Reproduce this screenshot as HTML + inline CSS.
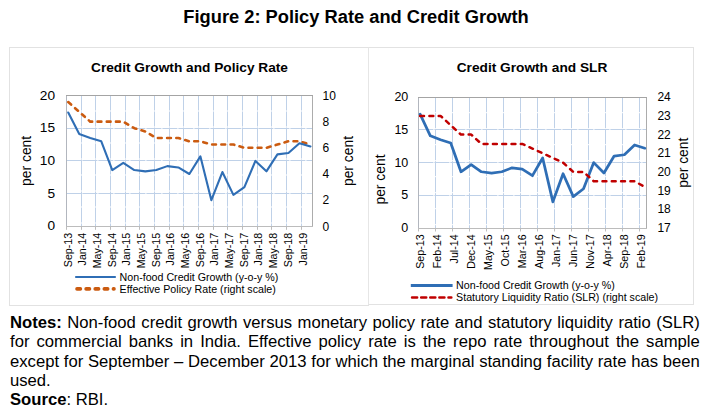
<!DOCTYPE html>
<html><head><meta charset="utf-8"><title>Figure 2</title>
<style>
html,body{margin:0;padding:0;background:#fff;}
body{width:706px;height:413px;overflow:hidden;position:relative;font-family:"Liberation Sans", sans-serif;color:#000;}
#ttl{position:absolute;left:0;top:5.5px;width:712px;text-align:center;font-weight:bold;font-size:18.3px;line-height:22px;white-space:nowrap;}
#bl{position:absolute;left:9.2px;top:47px;width:359.6px;height:258.9px;border:1px solid #e2e2e2;border-right:none;box-sizing:border-box;}
#br{position:absolute;left:368.0px;top:47px;width:325.9px;height:257.7px;border:1px solid #e2e2e2;border-left:1.7px solid #e6e6e6;box-sizing:border-box;}
svg{position:absolute;left:0;top:0;}
svg text{font-family:"Liberation Sans", sans-serif;fill:#000;}
#notes{position:absolute;left:10px;top:313.4px;width:689.8px;font-size:16.67px;line-height:19.1px;}
#notes div{white-space:nowrap;text-align:justify;text-align-last:justify;height:19.1px;}
#notes div.l{text-align:left;text-align-last:left;}
</style></head><body>
<div id="ttl">Figure 2: Policy Rate and Credit Growth</div>
<div id="bl"></div><div id="br"></div>
<svg width="706" height="413" viewBox="0 0 706 413">
<line x1="66.4" y1="128.50" x2="312.3" y2="128.50" stroke="#bfd1e8" stroke-width="1" stroke-dasharray="15 1" stroke-dashoffset="0"/>
<line x1="66.4" y1="160.50" x2="312.3" y2="160.50" stroke="#bfd1e8" stroke-width="1" stroke-dasharray="15 1" stroke-dashoffset="0"/>
<line x1="66.4" y1="193.50" x2="312.3" y2="193.50" stroke="#bfd1e8" stroke-width="1" stroke-dasharray="15 1" stroke-dashoffset="0"/>
<line x1="81.50" y1="95.5" x2="81.50" y2="226.3" stroke="#bfd1e8" stroke-width="1" stroke-dasharray="15 1"/>
<line x1="95.50" y1="95.5" x2="95.50" y2="226.3" stroke="#bfd1e8" stroke-width="1" stroke-dasharray="15 1"/>
<line x1="110.50" y1="95.5" x2="110.50" y2="226.3" stroke="#bfd1e8" stroke-width="1" stroke-dasharray="15 1"/>
<line x1="125.50" y1="95.5" x2="125.50" y2="226.3" stroke="#bfd1e8" stroke-width="1" stroke-dasharray="15 1"/>
<line x1="139.50" y1="95.5" x2="139.50" y2="226.3" stroke="#bfd1e8" stroke-width="1" stroke-dasharray="15 1"/>
<line x1="154.50" y1="95.5" x2="154.50" y2="226.3" stroke="#bfd1e8" stroke-width="1" stroke-dasharray="15 1"/>
<line x1="169.50" y1="95.5" x2="169.50" y2="226.3" stroke="#bfd1e8" stroke-width="1" stroke-dasharray="15 1"/>
<line x1="183.50" y1="95.5" x2="183.50" y2="226.3" stroke="#bfd1e8" stroke-width="1" stroke-dasharray="15 1"/>
<line x1="198.50" y1="95.5" x2="198.50" y2="226.3" stroke="#bfd1e8" stroke-width="1" stroke-dasharray="15 1"/>
<line x1="213.50" y1="95.5" x2="213.50" y2="226.3" stroke="#bfd1e8" stroke-width="1" stroke-dasharray="15 1"/>
<line x1="227.50" y1="95.5" x2="227.50" y2="226.3" stroke="#bfd1e8" stroke-width="1" stroke-dasharray="15 1"/>
<line x1="242.50" y1="95.5" x2="242.50" y2="226.3" stroke="#bfd1e8" stroke-width="1" stroke-dasharray="15 1"/>
<line x1="257.50" y1="95.5" x2="257.50" y2="226.3" stroke="#bfd1e8" stroke-width="1" stroke-dasharray="15 1"/>
<line x1="271.50" y1="95.5" x2="271.50" y2="226.3" stroke="#bfd1e8" stroke-width="1" stroke-dasharray="15 1"/>
<line x1="286.50" y1="95.5" x2="286.50" y2="226.3" stroke="#bfd1e8" stroke-width="1" stroke-dasharray="15 1"/>
<line x1="301.50" y1="95.5" x2="301.50" y2="226.3" stroke="#bfd1e8" stroke-width="1" stroke-dasharray="15 1"/>
<line x1="66.50" y1="226.3" x2="66.50" y2="229.8" stroke="#bcbcbc" stroke-width="1"/>
<line x1="81.50" y1="226.3" x2="81.50" y2="229.8" stroke="#bcbcbc" stroke-width="1"/>
<line x1="95.50" y1="226.3" x2="95.50" y2="229.8" stroke="#bcbcbc" stroke-width="1"/>
<line x1="110.50" y1="226.3" x2="110.50" y2="229.8" stroke="#bcbcbc" stroke-width="1"/>
<line x1="125.50" y1="226.3" x2="125.50" y2="229.8" stroke="#bcbcbc" stroke-width="1"/>
<line x1="139.50" y1="226.3" x2="139.50" y2="229.8" stroke="#bcbcbc" stroke-width="1"/>
<line x1="154.50" y1="226.3" x2="154.50" y2="229.8" stroke="#bcbcbc" stroke-width="1"/>
<line x1="169.50" y1="226.3" x2="169.50" y2="229.8" stroke="#bcbcbc" stroke-width="1"/>
<line x1="183.50" y1="226.3" x2="183.50" y2="229.8" stroke="#bcbcbc" stroke-width="1"/>
<line x1="198.50" y1="226.3" x2="198.50" y2="229.8" stroke="#bcbcbc" stroke-width="1"/>
<line x1="213.50" y1="226.3" x2="213.50" y2="229.8" stroke="#bcbcbc" stroke-width="1"/>
<line x1="227.50" y1="226.3" x2="227.50" y2="229.8" stroke="#bcbcbc" stroke-width="1"/>
<line x1="242.50" y1="226.3" x2="242.50" y2="229.8" stroke="#bcbcbc" stroke-width="1"/>
<line x1="257.50" y1="226.3" x2="257.50" y2="229.8" stroke="#bcbcbc" stroke-width="1"/>
<line x1="271.50" y1="226.3" x2="271.50" y2="229.8" stroke="#bcbcbc" stroke-width="1"/>
<line x1="286.50" y1="226.3" x2="286.50" y2="229.8" stroke="#bcbcbc" stroke-width="1"/>
<line x1="301.50" y1="226.3" x2="301.50" y2="229.8" stroke="#bcbcbc" stroke-width="1"/>
<line x1="66.5" y1="95.5" x2="66.5" y2="226.5" stroke="#b2b6be" stroke-width="1"/>
<line x1="312.5" y1="95.5" x2="312.5" y2="226.5" stroke="#acacac" stroke-width="1"/>
<line x1="66.0" y1="226.5" x2="313.0" y2="226.5" stroke="#bcbcbc" stroke-width="1"/>
<line x1="66.0" y1="95.5" x2="313.0" y2="95.5" stroke="#a4a4a4" stroke-width="1"/>
<polyline points="68.24,102.04 79.25,111.85 90.26,121.66 101.27,121.66 112.28,121.66 123.29,121.66 134.30,128.20 145.31,131.47 156.32,138.01 167.33,138.01 178.34,138.01 189.35,141.28 200.36,141.28 211.37,144.55 222.38,144.55 233.39,144.55 244.40,147.82 255.41,147.82 266.42,147.82 277.43,144.55 288.44,141.28 299.45,141.28 310.46,144.55" fill="none" stroke="#cb5b10" stroke-width="2.6" stroke-dasharray="3.8 5.4" stroke-linecap="round" stroke-linejoin="round"/>
<polyline points="68.24,112.50 79.25,134.09 90.26,138.01 101.27,141.28 112.28,170.06 123.29,162.86 134.30,170.06 145.31,171.36 156.32,170.06 167.33,166.13 178.34,167.44 189.35,173.98 200.36,156.32 211.37,200.14 222.38,172.02 233.39,194.91 244.40,187.06 255.41,160.90 266.42,171.36 277.43,154.36 288.44,153.05 299.45,143.24 310.46,146.51" fill="none" stroke="#2f6eb5" stroke-width="2.1" stroke-linejoin="round" stroke-linecap="round"/>
<text x="55" y="230.40" font-size="13.7" text-anchor="end">0</text>
<text x="55" y="197.70" font-size="13.7" text-anchor="end">5</text>
<text x="55" y="165.00" font-size="13.7" text-anchor="end">10</text>
<text x="55" y="132.30" font-size="13.7" text-anchor="end">15</text>
<text x="55" y="99.60" font-size="13.7" text-anchor="end">20</text>
<text x="322.5" y="230.50" font-size="12" text-anchor="start">0</text>
<text x="322.5" y="204.34" font-size="12" text-anchor="start">2</text>
<text x="322.5" y="178.18" font-size="12" text-anchor="start">4</text>
<text x="322.5" y="152.02" font-size="12" text-anchor="start">6</text>
<text x="322.5" y="125.86" font-size="12" text-anchor="start">8</text>
<text x="322.5" y="99.70" font-size="12" text-anchor="start">10</text>
<text transform="translate(71.64,232.80) rotate(-90)" font-size="10.67" text-anchor="end">Sep-13</text>
<text transform="translate(86.32,232.80) rotate(-90)" font-size="10.67" text-anchor="end">Jan-14</text>
<text transform="translate(101.00,232.80) rotate(-90)" font-size="10.67" text-anchor="end">May-14</text>
<text transform="translate(115.68,232.80) rotate(-90)" font-size="10.67" text-anchor="end">Sep-14</text>
<text transform="translate(130.36,232.80) rotate(-90)" font-size="10.67" text-anchor="end">Jan-15</text>
<text transform="translate(145.04,232.80) rotate(-90)" font-size="10.67" text-anchor="end">May-15</text>
<text transform="translate(159.72,232.80) rotate(-90)" font-size="10.67" text-anchor="end">Sep-15</text>
<text transform="translate(174.40,232.80) rotate(-90)" font-size="10.67" text-anchor="end">Jan-16</text>
<text transform="translate(189.08,232.80) rotate(-90)" font-size="10.67" text-anchor="end">May-16</text>
<text transform="translate(203.76,232.80) rotate(-90)" font-size="10.67" text-anchor="end">Sep-16</text>
<text transform="translate(218.44,232.80) rotate(-90)" font-size="10.67" text-anchor="end">Jan-17</text>
<text transform="translate(233.12,232.80) rotate(-90)" font-size="10.67" text-anchor="end">May-17</text>
<text transform="translate(247.80,232.80) rotate(-90)" font-size="10.67" text-anchor="end">Sep-17</text>
<text transform="translate(262.48,232.80) rotate(-90)" font-size="10.67" text-anchor="end">Jan-18</text>
<text transform="translate(277.16,232.80) rotate(-90)" font-size="10.67" text-anchor="end">May-18</text>
<text transform="translate(291.84,232.80) rotate(-90)" font-size="10.67" text-anchor="end">Sep-18</text>
<text transform="translate(306.52,232.80) rotate(-90)" font-size="10.67" text-anchor="end">Jan-19</text>
<text transform="translate(31.0,160.9) rotate(-90)" font-size="13.9" text-anchor="middle">per cent</text>
<text transform="translate(353.2,161.0) rotate(-90)" font-size="13.9" text-anchor="middle">per cent</text>
<text x="189.5" y="72.2" font-size="13.7" font-weight="bold" text-anchor="middle">Credit Growth and Policy Rate</text>
<line x1="75.2" y1="277.0" x2="115.8" y2="277.0" stroke="#2f6eb5" stroke-width="1.9"/>
<line x1="77.0" y1="288.9" x2="114.0" y2="288.9" stroke="#cb5b10" stroke-width="3.6" stroke-dasharray="3.4 5.7" stroke-linecap="round"/>
<text x="119.6" y="280.7" font-size="10.67">Non-food Credit Growth (y-o-y %)</text>
<text x="119.6" y="293.4" font-size="10.67">Effective Policy Rate (right scale)</text>
<line x1="418.4" y1="129.50" x2="646.5" y2="129.50" stroke="#bfd1e8" stroke-width="1" stroke-dasharray="15 1" stroke-dashoffset="0"/>
<line x1="418.4" y1="162.50" x2="646.5" y2="162.50" stroke="#bfd1e8" stroke-width="1" stroke-dasharray="15 1" stroke-dashoffset="0"/>
<line x1="418.4" y1="195.50" x2="646.5" y2="195.50" stroke="#bfd1e8" stroke-width="1" stroke-dasharray="15 1" stroke-dashoffset="0"/>
<line x1="435.50" y1="97.2" x2="435.50" y2="228.0" stroke="#bfd1e8" stroke-width="1" stroke-dasharray="15 1"/>
<line x1="452.50" y1="97.2" x2="452.50" y2="228.0" stroke="#bfd1e8" stroke-width="1" stroke-dasharray="15 1"/>
<line x1="469.50" y1="97.2" x2="469.50" y2="228.0" stroke="#bfd1e8" stroke-width="1" stroke-dasharray="15 1"/>
<line x1="486.50" y1="97.2" x2="486.50" y2="228.0" stroke="#bfd1e8" stroke-width="1" stroke-dasharray="15 1"/>
<line x1="503.50" y1="97.2" x2="503.50" y2="228.0" stroke="#bfd1e8" stroke-width="1" stroke-dasharray="15 1"/>
<line x1="520.50" y1="97.2" x2="520.50" y2="228.0" stroke="#bfd1e8" stroke-width="1" stroke-dasharray="15 1"/>
<line x1="537.50" y1="97.2" x2="537.50" y2="228.0" stroke="#bfd1e8" stroke-width="1" stroke-dasharray="15 1"/>
<line x1="554.50" y1="97.2" x2="554.50" y2="228.0" stroke="#bfd1e8" stroke-width="1" stroke-dasharray="15 1"/>
<line x1="571.50" y1="97.2" x2="571.50" y2="228.0" stroke="#bfd1e8" stroke-width="1" stroke-dasharray="15 1"/>
<line x1="588.50" y1="97.2" x2="588.50" y2="228.0" stroke="#bfd1e8" stroke-width="1" stroke-dasharray="15 1"/>
<line x1="605.50" y1="97.2" x2="605.50" y2="228.0" stroke="#bfd1e8" stroke-width="1" stroke-dasharray="15 1"/>
<line x1="622.50" y1="97.2" x2="622.50" y2="228.0" stroke="#bfd1e8" stroke-width="1" stroke-dasharray="15 1"/>
<line x1="639.50" y1="97.2" x2="639.50" y2="228.0" stroke="#bfd1e8" stroke-width="1" stroke-dasharray="15 1"/>
<line x1="418.50" y1="228.0" x2="418.50" y2="231.5" stroke="#bcbcbc" stroke-width="1"/>
<line x1="435.50" y1="228.0" x2="435.50" y2="231.5" stroke="#bcbcbc" stroke-width="1"/>
<line x1="452.50" y1="228.0" x2="452.50" y2="231.5" stroke="#bcbcbc" stroke-width="1"/>
<line x1="469.50" y1="228.0" x2="469.50" y2="231.5" stroke="#bcbcbc" stroke-width="1"/>
<line x1="486.50" y1="228.0" x2="486.50" y2="231.5" stroke="#bcbcbc" stroke-width="1"/>
<line x1="503.50" y1="228.0" x2="503.50" y2="231.5" stroke="#bcbcbc" stroke-width="1"/>
<line x1="520.50" y1="228.0" x2="520.50" y2="231.5" stroke="#bcbcbc" stroke-width="1"/>
<line x1="537.50" y1="228.0" x2="537.50" y2="231.5" stroke="#bcbcbc" stroke-width="1"/>
<line x1="554.50" y1="228.0" x2="554.50" y2="231.5" stroke="#bcbcbc" stroke-width="1"/>
<line x1="571.50" y1="228.0" x2="571.50" y2="231.5" stroke="#bcbcbc" stroke-width="1"/>
<line x1="588.50" y1="228.0" x2="588.50" y2="231.5" stroke="#bcbcbc" stroke-width="1"/>
<line x1="605.50" y1="228.0" x2="605.50" y2="231.5" stroke="#bcbcbc" stroke-width="1"/>
<line x1="622.50" y1="228.0" x2="622.50" y2="231.5" stroke="#bcbcbc" stroke-width="1"/>
<line x1="639.50" y1="228.0" x2="639.50" y2="231.5" stroke="#bcbcbc" stroke-width="1"/>
<line x1="418.5" y1="97.5" x2="418.5" y2="228.5" stroke="#b2b6be" stroke-width="1"/>
<line x1="646.5" y1="97.5" x2="646.5" y2="228.5" stroke="#acacac" stroke-width="1"/>
<line x1="418.0" y1="228.5" x2="647.0" y2="228.5" stroke="#bcbcbc" stroke-width="1"/>
<line x1="418.0" y1="97.5" x2="647.0" y2="97.5" stroke="#a4a4a4" stroke-width="1"/>
<polyline points="420.10,114.20 430.32,135.79 440.53,139.71 450.74,142.98 460.96,171.76 471.17,164.56 481.38,171.76 491.60,173.06 501.81,171.76 512.02,167.83 522.24,169.14 532.45,175.68 542.66,158.02 552.88,201.84 563.09,173.72 573.30,196.61 583.52,188.76 593.73,162.60 603.94,173.06 614.16,156.06 624.37,154.75 634.58,144.94 644.80,148.21" fill="none" stroke="#2f6eb5" stroke-width="2.75" stroke-linejoin="round" stroke-linecap="round"/>
<polyline points="420.10,115.89 430.32,115.89 440.53,115.89 450.74,125.23 460.96,134.57 471.17,134.57 481.38,143.91 491.60,143.91 501.81,143.91 512.02,143.91 522.24,143.91 532.45,148.59 542.66,153.26 552.88,157.93 563.09,162.60 573.30,171.94 583.52,171.94 593.73,181.29 603.94,181.29 614.16,181.29 624.37,181.29 634.58,181.29 644.80,186.89" fill="none" stroke="#c00000" stroke-width="2.5" stroke-dasharray="3.9 5.4" stroke-linecap="round" stroke-linejoin="round"/>
<text x="408.3" y="232.05" font-size="12.5" text-anchor="end">0</text>
<text x="408.3" y="199.35" font-size="12.5" text-anchor="end">5</text>
<text x="408.3" y="166.65" font-size="12.5" text-anchor="end">10</text>
<text x="408.3" y="133.95" font-size="12.5" text-anchor="end">15</text>
<text x="408.3" y="101.25" font-size="12.5" text-anchor="end">20</text>
<text x="657.4" y="232.10" font-size="12" text-anchor="start">17</text>
<text x="657.4" y="213.41" font-size="12" text-anchor="start">18</text>
<text x="657.4" y="194.73" font-size="12" text-anchor="start">19</text>
<text x="657.4" y="176.04" font-size="12" text-anchor="start">20</text>
<text x="657.4" y="157.36" font-size="12" text-anchor="start">21</text>
<text x="657.4" y="138.67" font-size="12" text-anchor="start">22</text>
<text x="657.4" y="119.99" font-size="12" text-anchor="start">23</text>
<text x="657.4" y="101.30" font-size="12" text-anchor="start">24</text>
<text transform="translate(424.10,234.40) rotate(-90)" font-size="10.67" text-anchor="end">Sep-13</text>
<text transform="translate(441.12,234.40) rotate(-90)" font-size="10.67" text-anchor="end">Feb-14</text>
<text transform="translate(458.15,234.40) rotate(-90)" font-size="10.67" text-anchor="end">Jul-14</text>
<text transform="translate(475.17,234.40) rotate(-90)" font-size="10.67" text-anchor="end">Dec-14</text>
<text transform="translate(492.19,234.40) rotate(-90)" font-size="10.67" text-anchor="end">May-15</text>
<text transform="translate(509.21,234.40) rotate(-90)" font-size="10.67" text-anchor="end">Oct-15</text>
<text transform="translate(526.24,234.40) rotate(-90)" font-size="10.67" text-anchor="end">Mar-16</text>
<text transform="translate(543.26,234.40) rotate(-90)" font-size="10.67" text-anchor="end">Aug-16</text>
<text transform="translate(560.28,234.40) rotate(-90)" font-size="10.67" text-anchor="end">Jan-17</text>
<text transform="translate(577.30,234.40) rotate(-90)" font-size="10.67" text-anchor="end">Jun-17</text>
<text transform="translate(594.33,234.40) rotate(-90)" font-size="10.67" text-anchor="end">Nov-17</text>
<text transform="translate(611.35,234.40) rotate(-90)" font-size="10.67" text-anchor="end">Apr-18</text>
<text transform="translate(628.37,234.40) rotate(-90)" font-size="10.67" text-anchor="end">Sep-18</text>
<text transform="translate(645.39,234.40) rotate(-90)" font-size="10.67" text-anchor="end">Feb-19</text>
<text transform="translate(385.4,179.5) rotate(-90)" font-size="13.9" text-anchor="middle">per cent</text>
<text transform="translate(687.6,162.7) rotate(-90)" font-size="13.9" text-anchor="middle">per cent</text>
<text x="532" y="71.5" font-size="13.7" font-weight="bold" text-anchor="middle">Credit Growth and SLR</text>
<line x1="410.8" y1="285.5" x2="452.6" y2="285.5" stroke="#2f6eb5" stroke-width="2.9"/>
<line x1="412.1" y1="297.5" x2="451.3" y2="297.5" stroke="#c00000" stroke-width="2.6" stroke-dasharray="5.0 4.1" stroke-linecap="round"/>
<text x="456.1" y="289.3" font-size="10.67">Non-food Credit Growth (y-o-y %)</text>
<text x="456.1" y="301.3" font-size="10.67">Statutory Liquidity Ratio (SLR) (right scale)</text>
</svg>
<div id="notes"><div><b>Notes:</b> Non-food credit growth versus monetary policy rate and statutory liquidity ratio (SLR)</div><div>for commercial banks in India. Effective policy rate is the repo rate throughout the sample</div><div>except for September – December 2013 for which the marginal standing facility rate has been</div><div class="l">used.</div><div class="l"><b>Source</b>: RBI.</div></div>
</body></html>
